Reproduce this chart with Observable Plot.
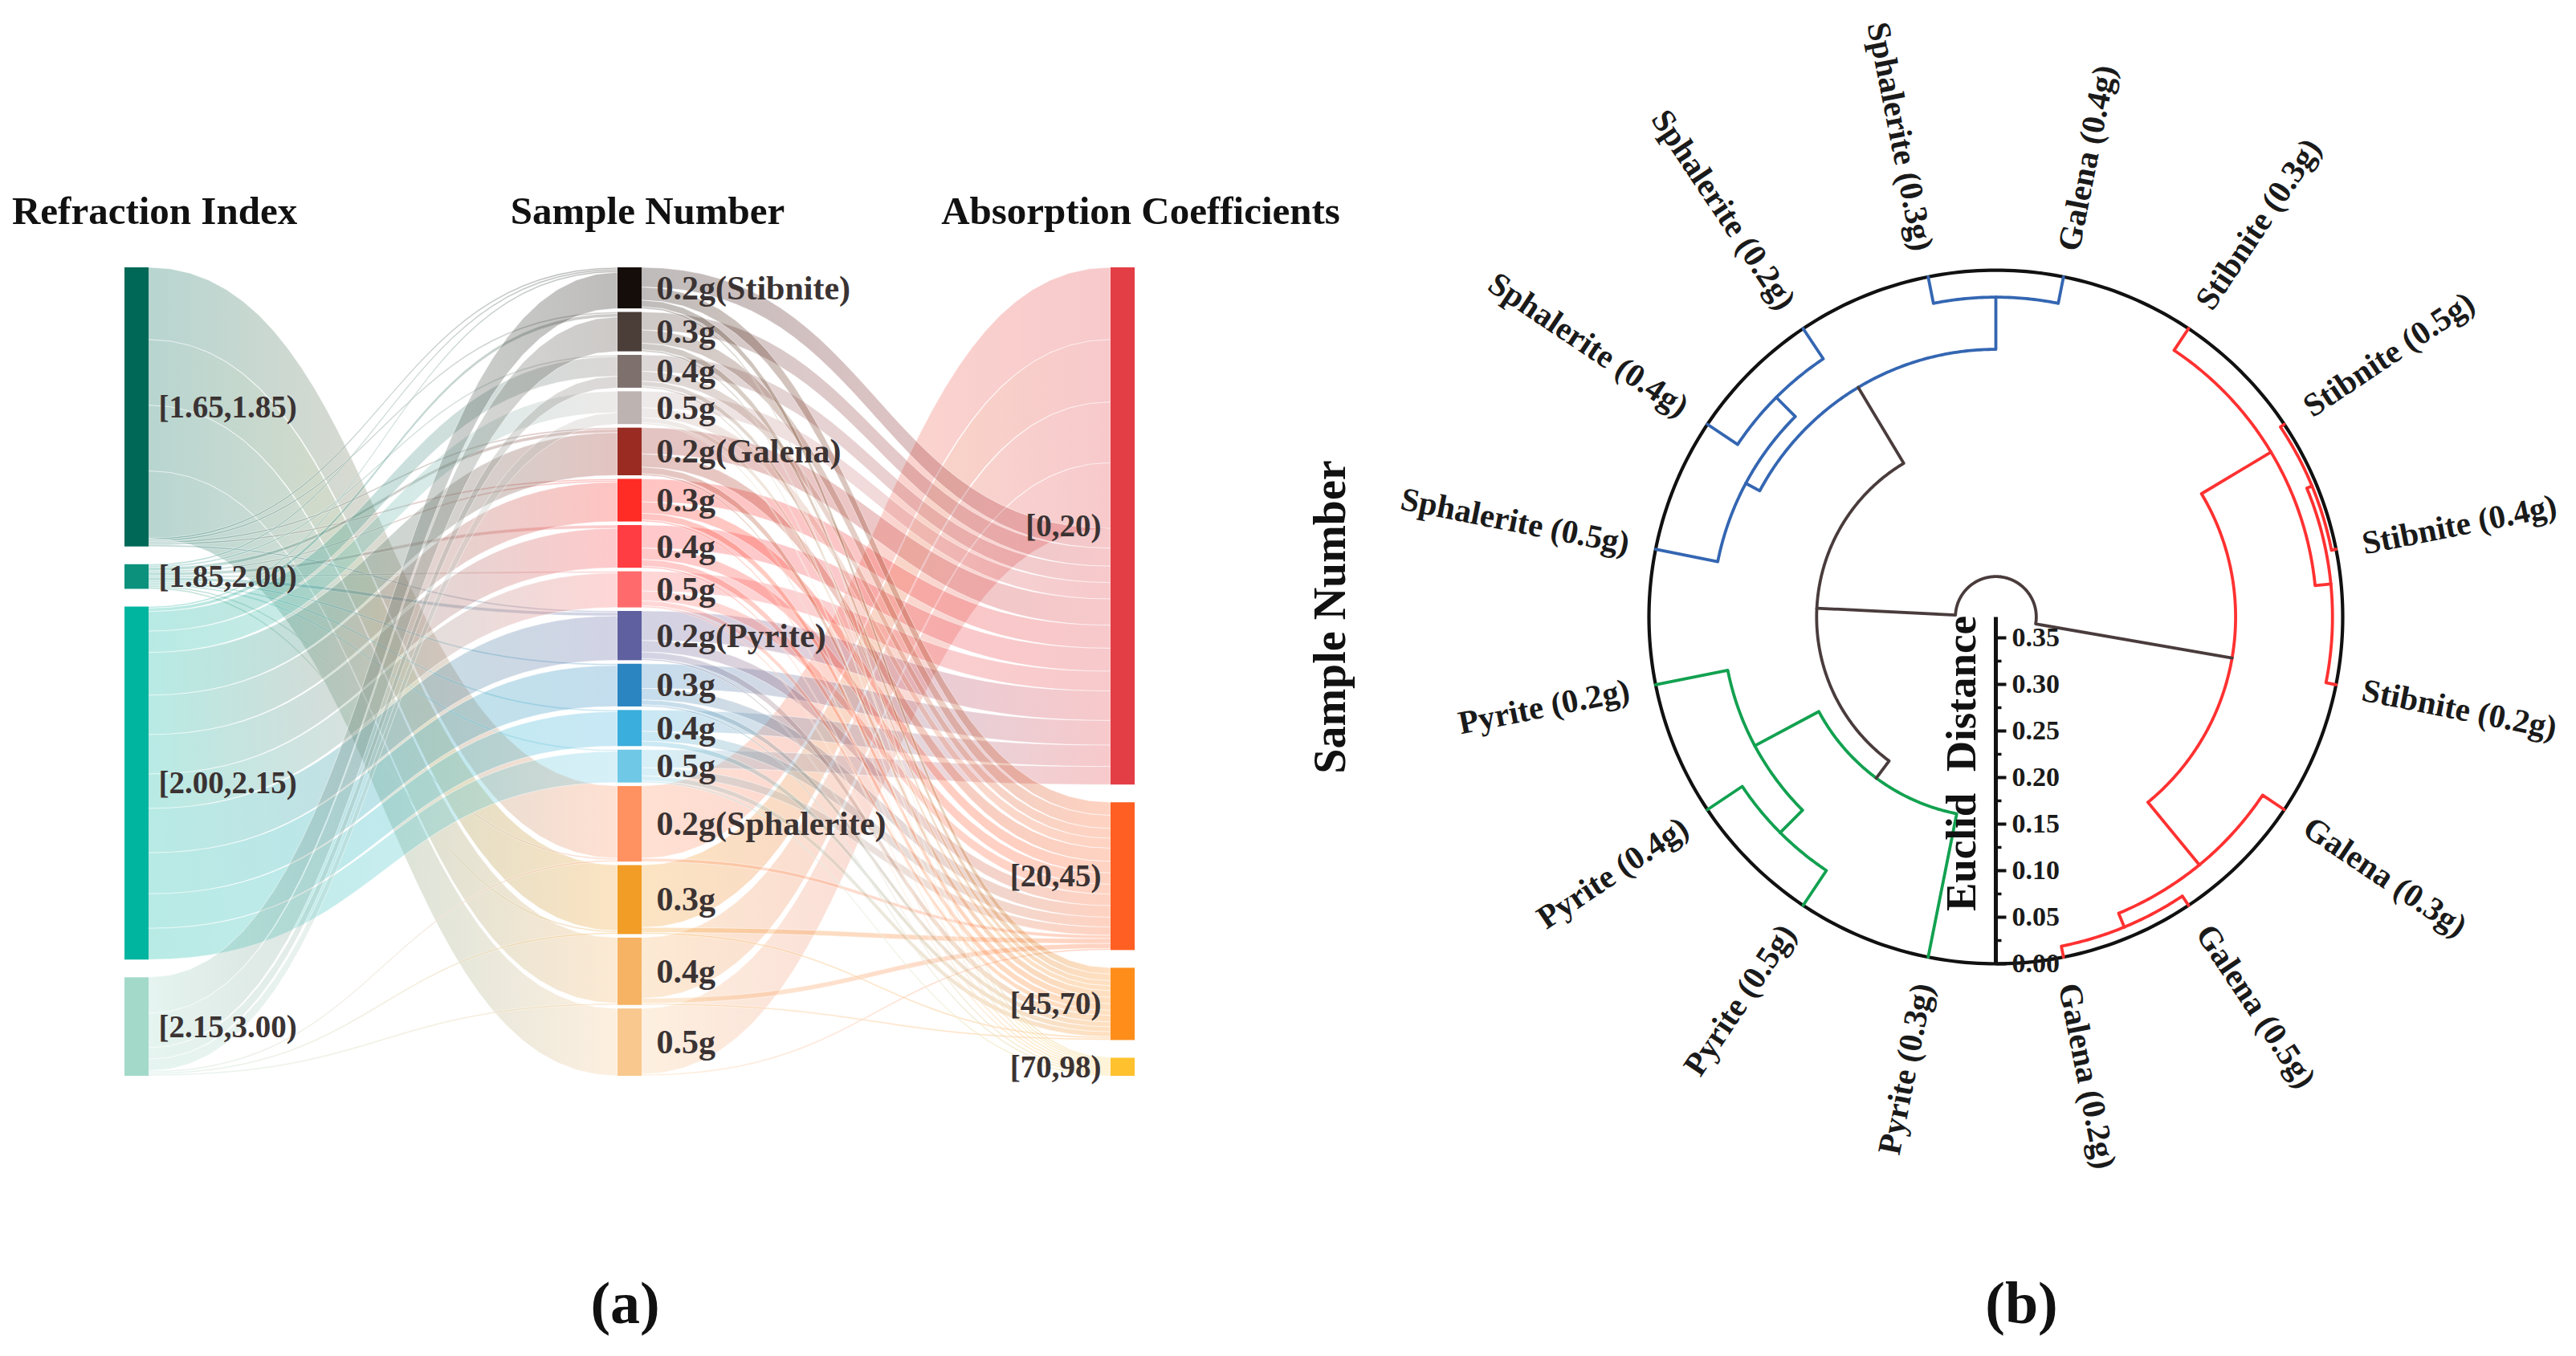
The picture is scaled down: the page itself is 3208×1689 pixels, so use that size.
<!DOCTYPE html>
<html>
<head>
<meta charset="utf-8">
<script src="https://cdn.jsdelivr.net/npm/d3@7"></script>
<script src="https://cdn.jsdelivr.net/npm/@observablehq/plot@0.6"></script>
<style>
html,body{margin:0;padding:0;background:#fff;}
#wrap{position:relative;width:3208px;height:1689px;overflow:hidden;background:#fff;}
#wrap > svg{position:absolute;top:0;}
</style>
</head>
<body>
<div id="wrap"></div>
<script>
// ================= Panel (a) data : Sankey =================
const refrBins = ["[1.65,1.85)", "[1.85,2.00)", "[2.00,2.15)", "[2.15,3.00)"];
const refrColors = ["#006857", "#0b917c", "#00b5a0", "#a3d9c9"];

const sampleIds = ["Stibnite 0.2g","Stibnite 0.3g","Stibnite 0.4g","Stibnite 0.5g",
  "Galena 0.2g","Galena 0.3g","Galena 0.4g","Galena 0.5g",
  "Pyrite 0.2g","Pyrite 0.3g","Pyrite 0.4g","Pyrite 0.5g",
  "Sphalerite 0.2g","Sphalerite 0.3g","Sphalerite 0.4g","Sphalerite 0.5g"];
const sampleLabels = ["0.2g(Stibnite)","0.3g","0.4g","0.5g",
  "0.2g(Galena)","0.3g","0.4g","0.5g",
  "0.2g(Pyrite)","0.3g","0.4g","0.5g",
  "0.2g(Sphalerite)","0.3g","0.4g","0.5g"];
const sampleColors = ["#150d09","#4b3e38","#7e716d","#bdb3b0",
  "#992b22","#ff2b25","#ff3d42","#ff6b6d",
  "#5e609f","#2b85c1","#3aaedc","#6ec8e6",
  "#ff9260","#f29d25","#f6b363","#f9c88e"];

const absBins = ["[0,20)", "[20,45)", "[45,70)", "[70,98)"];
const absColors = ["#e33d45", "#ff5f22", "#ff8d1a", "#ffc12e"];

const colTitles = ["Refraction Index", "Sample Number", "Absorption Coefficients"];

// refraction-index bin -> sample (count of spectral points), in stacking order
const refrToSample = [
  ["[1.65,1.85)", "Sphalerite 0.2g", 44],
  ["[1.65,1.85)", "Sphalerite 0.3g", 40],
  ["[1.65,1.85)", "Sphalerite 0.4g", 40],
  ["[1.65,1.85)", "Sphalerite 0.5g", 41],
  ["[1.65,1.85)", "Stibnite 0.2g", 1],
  ["[1.65,1.85)", "Stibnite 0.3g", 1],
  ["[1.65,1.85)", "Galena 0.2g", 1],
  ["[1.65,1.85)", "Galena 0.3g", 1],
  ["[1.65,1.85)", "Pyrite 0.2g", 1],
  ["[1.85,2.00)", "Stibnite 0.2g", 1],
  ["[1.85,2.00)", "Stibnite 0.4g", 1],
  ["[1.85,2.00)", "Galena 0.2g", 2],
  ["[1.85,2.00)", "Galena 0.3g", 1],
  ["[1.85,2.00)", "Galena 0.4g", 2],
  ["[1.85,2.00)", "Galena 0.5g", 1],
  ["[1.85,2.00)", "Pyrite 0.2g", 2],
  ["[1.85,2.00)", "Pyrite 0.3g", 1],
  ["[1.85,2.00)", "Pyrite 0.4g", 1],
  ["[1.85,2.00)", "Pyrite 0.5g", 1],
  ["[1.85,2.00)", "Sphalerite 0.2g", 1],
  ["[1.85,2.00)", "Sphalerite 0.3g", 1],
  ["[2.00,2.15)", "Stibnite 0.2g", 1],
  ["[2.00,2.15)", "Stibnite 0.3g", 2],
  ["[2.00,2.15)", "Stibnite 0.4g", 12],
  ["[2.00,2.15)", "Stibnite 0.5g", 13],
  ["[2.00,2.15)", "Galena 0.2g", 26],
  ["[2.00,2.15)", "Galena 0.3g", 24],
  ["[2.00,2.15)", "Galena 0.4g", 24],
  ["[2.00,2.15)", "Galena 0.5g", 21],
  ["[2.00,2.15)", "Pyrite 0.2g", 27],
  ["[2.00,2.15)", "Pyrite 0.3g", 25],
  ["[2.00,2.15)", "Pyrite 0.4g", 21],
  ["[2.00,2.15)", "Pyrite 0.5g", 19],
  ["[2.15,3.00)", "Stibnite 0.2g", 22],
  ["[2.15,3.00)", "Stibnite 0.3g", 21],
  ["[2.15,3.00)", "Stibnite 0.4g", 7],
  ["[2.15,3.00)", "Stibnite 0.5g", 7],
  ["[2.15,3.00)", "Sphalerite 0.2g", 1],
  ["[2.15,3.00)", "Sphalerite 0.3g", 1],
  ["[2.15,3.00)", "Sphalerite 0.4g", 1]
];

// sample -> absorption-coefficient bin, in stacking order
const sampleToAbs = [
  ["Sphalerite 0.2g", "[0,20)", 44],
  ["Sphalerite 0.3g", "[0,20)", 38],
  ["Sphalerite 0.4g", "[0,20)", 37],
  ["Sphalerite 0.5g", "[0,20)", 40],
  ["Stibnite 0.2g", "[0,20)", 12],
  ["Stibnite 0.3g", "[0,20)", 11],
  ["Stibnite 0.4g", "[0,20)", 10],
  ["Stibnite 0.5g", "[0,20)", 10],
  ["Galena 0.2g", "[0,20)", 16],
  ["Galena 0.3g", "[0,20)", 14],
  ["Galena 0.4g", "[0,20)", 14],
  ["Galena 0.5g", "[0,20)", 12],
  ["Pyrite 0.2g", "[0,20)", 18],
  ["Pyrite 0.3g", "[0,20)", 15],
  ["Pyrite 0.4g", "[0,20)", 13],
  ["Pyrite 0.5g", "[0,20)", 11],
  ["Stibnite 0.2g", "[20,45)", 8],
  ["Stibnite 0.3g", "[20,45)", 8],
  ["Stibnite 0.4g", "[20,45)", 6],
  ["Stibnite 0.5g", "[20,45)", 6],
  ["Galena 0.2g", "[20,45)", 8],
  ["Galena 0.3g", "[20,45)", 7],
  ["Galena 0.4g", "[20,45)", 7],
  ["Galena 0.5g", "[20,45)", 6],
  ["Pyrite 0.2g", "[20,45)", 7],
  ["Pyrite 0.3g", "[20,45)", 7],
  ["Pyrite 0.4g", "[20,45)", 6],
  ["Pyrite 0.5g", "[20,45)", 5],
  ["Sphalerite 0.2g", "[20,45)", 2],
  ["Sphalerite 0.3g", "[20,45)", 3],
  ["Sphalerite 0.4g", "[20,45)", 3],
  ["Sphalerite 0.5g", "[20,45)", 1],
  ["Stibnite 0.2g", "[45,70)", 4],
  ["Stibnite 0.3g", "[45,70)", 4],
  ["Stibnite 0.4g", "[45,70)", 3],
  ["Stibnite 0.5g", "[45,70)", 3],
  ["Galena 0.2g", "[45,70)", 4],
  ["Galena 0.3g", "[45,70)", 4],
  ["Galena 0.4g", "[45,70)", 4],
  ["Galena 0.5g", "[45,70)", 3],
  ["Pyrite 0.2g", "[45,70)", 4],
  ["Pyrite 0.3g", "[45,70)", 3],
  ["Pyrite 0.4g", "[45,70)", 3],
  ["Pyrite 0.5g", "[45,70)", 3],
  ["Sphalerite 0.3g", "[45,70)", 1],
  ["Sphalerite 0.4g", "[45,70)", 1],
  ["Stibnite 0.2g", "[70,98)", 1],
  ["Stibnite 0.3g", "[70,98)", 1],
  ["Stibnite 0.4g", "[70,98)", 1],
  ["Stibnite 0.5g", "[70,98)", 1],
  ["Galena 0.2g", "[70,98)", 1],
  ["Galena 0.3g", "[70,98)", 1],
  ["Galena 0.4g", "[70,98)", 1],
  ["Galena 0.5g", "[70,98)", 1],
  ["Pyrite 0.2g", "[70,98)", 1],
  ["Pyrite 0.3g", "[70,98)", 1],
  ["Pyrite 0.5g", "[70,98)", 1]
];

// ================= Panel (b) data : circular dendrogram =================
// leaves clockwise starting just left of the bottom
const dendroLeaves = ["Pyrite (0.3g)","Pyrite (0.5g)","Pyrite (0.4g)","Pyrite (0.2g)",
  "Sphalerite (0.5g)","Sphalerite (0.4g)","Sphalerite (0.2g)","Sphalerite (0.3g)",
  "Galena (0.4g)","Stibnite (0.3g)","Stibnite (0.5g)","Stibnite (0.4g)","Stibnite (0.2g)",
  "Galena (0.3g)","Galena (0.5g)","Galena (0.2g)"];
const mergeNames  = ["A","B","C","D","E","F","G","H","J","K","L","O","N","M","Root"];
const mergeLeft   = ["Sphalerite (0.3g)","Sphalerite (0.4g)","Sphalerite (0.5g)","C","Pyrite (0.5g)","Pyrite (0.2g)","Pyrite (0.3g)","G","Stibnite (0.5g)","J","Stibnite (0.3g)","Galena (0.5g)","Galena (0.3g)","L","H"];
const mergeRight  = ["Galena (0.4g)","Sphalerite (0.2g)","B","A","Pyrite (0.4g)","E","F","D","Stibnite (0.4g)","Stibnite (0.2g)","K","Galena (0.2g)","O","N","M"];
const mergeHeight = [0.029,0.039,0.068,0.085,0.045,0.079,0.157,0.180,0.005,0.011,0.028,0.012,0.028,0.115,0.329];
const mergeGroup  = ["blue","blue","blue","blue","green","green","green","gray","red","red","red","red","red","red","gray"];
const distTicks = [0, 0.05, 0.10, 0.15, 0.20, 0.25, 0.30, 0.35];
const distMinor = [0.025, 0.075, 0.125, 0.175, 0.225, 0.275, 0.325];

// ================= styles =================
const FONT = "'Liberation Serif','Times New Roman',serif";
const groupColor = {blue: "#3466b2", green: "#12a150", red: "#ff3131", gray: "#4a3c3c"};
const W = 3208, H = 1689;

// ================= Panel (a) layout =================
const nodeW = 0.049;             // node width in column units
const Hu = 492.4;                // column height in count units (incl. gaps)
function column(names, values, colors) {
  const gap = (Hu - d3.sum(values)) / (names.length - 1);
  let y = 0;
  return names.map((name, i) => {
    const n = {name, value: values[i], color: colors[i], y0: y, y1: y + values[i], inOff: 0, outOff: 0};
    y += values[i] + gap;
    return n;
  });
}
const leftVals = refrBins.map(b => d3.sum(refrToSample.filter(l => l[0] === b), l => l[2]));
const midVals = sampleIds.map(s => d3.sum(refrToSample.filter(l => l[1] === s), l => l[2]));
const rightVals = absBins.map(b => d3.sum(sampleToAbs.filter(l => l[1] === b), l => l[2]));
const leftNodes = column(refrBins, leftVals, refrColors).map(n => ({...n, col: 0}));
const midNodes = column(sampleIds, midVals, sampleColors).map((n, i) => ({...n, col: 1, label: sampleLabels[i]}));
const rightNodes = column(absBins, rightVals, absColors).map(n => ({...n, col: 2}));
const byName = new Map([...leftNodes, ...midNodes, ...rightNodes].map(n => [n.col + ":" + n.name, n]));

let gid = 0;
function stack(list, sc) {
  return list.map(([s, t, v]) => {
    const a = byName.get(sc + ":" + s), b = byName.get((sc + 1) + ":" + t);
    const s0 = a.y0 + a.outOff; a.outOff += v;
    const t0 = b.y0 + b.inOff; b.inOff += v;
    const id = "lg" + (gid++);
    return {x1: sc + nodeW, x2: sc + 1, s0, t0, v, c1: a.color, c2: b.color, id, grad: `url(#${id})`};
  });
}
const links = [...stack(refrToSample, 0), ...stack(sampleToAbs, 1)];
// ribbon outlines: cubic Bezier with control points at the horizontal midpoint
const ribbonPts = [];
const NS = 32;
for (const l of links) {
  for (let k = 0; k <= NS; k++) {
    const s = k / NS;
    const fx = 1.5 * s * (1 - s) + s * s * s;
    const fy = 3 * s * s - 2 * s * s * s;
    const top = l.s0 + (l.t0 - l.s0) * fy;
    ribbonPts.push({id: l.id, grad: l.grad, x: l.x1 + (l.x2 - l.x1) * fx, yt: top, yb: top + l.v});
  }
}
const allNodes = [...leftNodes, ...midNodes, ...rightNodes];

const yRangeA = [333, 1340];
const txt = {fontFamily: FONT, fontWeight: "bold", fill: "#3b3333"};

const svgA = Plot.plot({
  width: 1700, height: H, margin: 0,
  style: {background: "transparent", maxWidth: "none", overflow: "visible", fontFamily: FONT},
  x: {domain: [0, 2], range: [155, 1383], axis: null},
  y: {domain: [0, Hu], range: yRangeA, axis: null},
  color: {type: "identity"},
  marks: [
    Plot.area(ribbonPts, {x1: "x", y1: "yt", y2: "yb", z: "id", fill: "grad", fillOpacity: 0.28,
      stroke: "white", strokeWidth: 0.9, strokeOpacity: 0.55}),
    Plot.rect(allNodes, {x1: d => d.col, x2: d => d.col + nodeW, y1: "y0", y2: "y1", fill: "color"}),
    Plot.text(leftNodes, {x: d => d.col + nodeW, y: d => (d.y0 + d.y1) / 2, text: "name", dx: 12, textAnchor: "start", fontSize: 39, ...txt}),
    Plot.text(midNodes, {x: d => d.col + nodeW, y: d => (d.y0 + d.y1) / 2, text: "label", dx: 18, textAnchor: "start", fontSize: 42, ...txt}),
    Plot.text(rightNodes, {x: d => d.col, y: d => (d.y0 + d.y1) / 2, text: "name", dx: -12, textAnchor: "end", fontSize: 39, ...txt}),
    Plot.text(colTitles, {x: (d, i) => i + nodeW / 2, frameAnchor: "top", dy: 244, dx: 22, text: d => d, fontSize: 49, fontFamily: FONT, fontWeight: "bold", fill: "#111"}),
    Plot.text(["(a)"], {x: () => 1 + nodeW / 2, frameAnchor: "bottom", dy: -42, dx: -6, text: d => d, fontSize: 74, fontFamily: FONT, fontWeight: "bold", fill: "#111"})
  ]
});
// gradients for ribbons (source colour -> target colour)
{
  const ns = "http://www.w3.org/2000/svg";
  const sx = svgA.scale("x");
  const defs = document.createElementNS(ns, "defs");
  for (const l of links) {
    const g = document.createElementNS(ns, "linearGradient");
    g.setAttribute("id", l.id);
    g.setAttribute("gradientUnits", "userSpaceOnUse");
    g.setAttribute("x1", sx.apply(l.x1)); g.setAttribute("x2", sx.apply(l.x2));
    g.setAttribute("y1", 0); g.setAttribute("y2", 0);
    for (const [o, c] of [[0, l.c1], [1, l.c2]]) {
      const s = document.createElementNS(ns, "stop");
      s.setAttribute("offset", o); s.setAttribute("stop-color", c);
      g.appendChild(s);
    }
    defs.appendChild(g);
  }
  svgA.insertBefore(defs, svgA.firstChild);
}
svgA.style.left = "0px";

// ================= Panel (b) layout =================
const Rmax = 0.3724;     // circle radius in distance units (distance 0 lies on the circle)
const dn = new Map();
dendroLeaves.forEach((n, i) => dn.set(n, {theta: -168.75 + 22.5 * i, h: 0}));
mergeNames.forEach((n, i) => {
  const a = dn.get(mergeLeft[i]), b = dn.get(mergeRight[i]);
  dn.set(n, {theta: (a.theta + b.theta) / 2, h: mergeHeight[i], group: mergeGroup[i]});
});
const rad = Math.PI / 180;
const polar = (t, r) => ({x: r * Math.sin(t * rad), y: r * Math.cos(t * rad)});
const dendroPts = [];
mergeNames.forEach((n, i) => {
  const p = dn.get(n);
  for (const cn of [mergeLeft[i], mergeRight[i]]) {
    const c = dn.get(cn);
    const id = cn + "->" + n, color = groupColor[p.group];
    const rc = Rmax - c.h, rp = Rmax - p.h;
    dendroPts.push({id, color, ...polar(c.theta, rc)});
    const steps = Math.max(1, Math.ceil(Math.abs(p.theta - c.theta) / 0.5));
    for (let k = 0; k <= steps; k++) {
      dendroPts.push({id, color, ...polar(c.theta + (p.theta - c.theta) * k / steps, rp)});
    }
  }
});
const circlePts = d3.range(0, 361, 1).map(t => polar(t, Rmax));
const leafLab = dendroLeaves.map((n, i) => {
  const t = dn.get(n).theta;
  return {name: n, t, ...polar(t, Rmax + 0.029)};
});
const yd = d => -(Rmax - d);   // distance axis runs down from the centre to the circle
const lab = {fontFamily: FONT, fontWeight: "bold", fill: "#1a1a1a"};

const cxB = 905, cyB = 768, pxU = 1160;
const svgB = Plot.plot({
  width: 1628, height: H, margin: 0,
  style: {background: "transparent", maxWidth: "none", overflow: "visible", fontFamily: FONT},
  x: {domain: [-1, 1], range: [cxB - pxU, cxB + pxU], axis: null},
  y: {domain: [-1, 1], range: [cyB + pxU, cyB - pxU], axis: null},
  color: {type: "identity"},
  marks: [
    Plot.line(circlePts, {x: "x", y: "y", stroke: "#111", strokeWidth: 4.2}),
    Plot.line(dendroPts, {x: "x", y: "y", z: "id", stroke: "color", strokeWidth: 3.8}),
    Plot.ruleX([0], {x: () => 0, y1: yd(0), y2: yd(0.372), stroke: "#111", strokeWidth: 5}),
    Plot.link(distTicks, {x1: () => 0, x2: () => 13 / pxU, y1: yd, y2: yd, stroke: "#111", strokeWidth: 4}),
    Plot.link(distMinor, {x1: () => 0, x2: () => 7 / pxU, y1: yd, y2: yd, stroke: "#111", strokeWidth: 3.5}),
    Plot.text(distTicks, {x: () => 0, y: yd, text: d3.format(".2f"), dx: 20, textAnchor: "start", fontSize: 34, ...lab}),
    Plot.text(["Euclid  Distance"], {x: () => 0, y: () => yd(0.215), dx: -42, rotate: -90, text: d => d, fontSize: 53, ...lab, fill: "#111"}),
    Plot.text(leafLab.filter(d => d.t > 0), {x: "x", y: "y", text: "name", rotate: d => d.t - 90, textAnchor: "start", fontSize: 41, ...lab}),
    Plot.text(leafLab.filter(d => d.t < 0), {x: "x", y: "y", text: "name", rotate: d => d.t + 90, textAnchor: "end", fontSize: 41, ...lab}),
    Plot.text(["Sample Number"], {x: () => -0.714, y: () => 0, rotate: -90, text: d => d, fontSize: 56, ...lab, fill: "#111"}),
    Plot.text(["(b)"], {x: () => 0, frameAnchor: "bottom", dy: -42, dx: 32, text: d => d, fontSize: 74, ...lab, fill: "#111"})
  ]
});
svgB.style.left = "1580px";

const wrap = document.getElementById("wrap");
wrap.appendChild(svgA);
wrap.appendChild(svgB);
</script>
</body>
</html>
